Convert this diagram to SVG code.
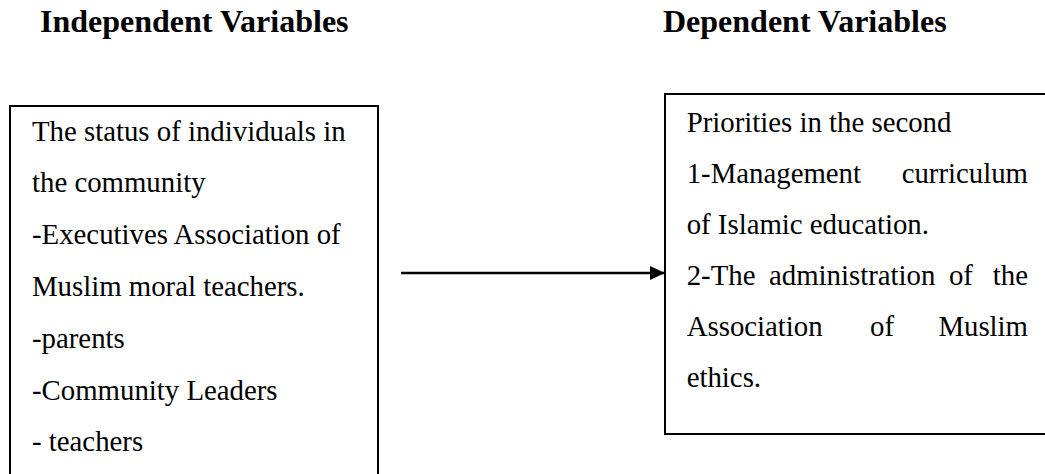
<svg xmlns="http://www.w3.org/2000/svg" width="1045" height="474" viewBox="0 0 1045 474">
<defs>
<style>
.hdr{font-family:"Liberation Serif","Times New Roman",serif;font-weight:bold;font-size:32px;fill:#000}
.t{font-family:"Liberation Serif","Times New Roman",serif;font-size:28.8px;fill:#000}
.box{fill:#fff;stroke:#000;stroke-width:2}
</style>
<marker id="ah" markerWidth="16" markerHeight="14" refX="15" refY="7" orient="auto" markerUnits="userSpaceOnUse">
<path d="M0,0 L15,7 L0,14 Z" fill="#000"/>
</marker>
</defs>
<rect width="1045" height="474" fill="#fff"/>
<text class="hdr" x="40" y="32">Independent Variables</text>
<text class="hdr" x="663" y="32">Dependent Variables</text>
<g id="independent">
<rect class="box" x="10" y="106" width="368" height="380"/>
<text class="t" x="32" y="140.5">The status of individuals in</text>
<text class="t" x="32" y="192.3">the community</text>
<text class="t" x="32" y="244.1">-Executives Association of</text>
<text class="t" x="32" y="295.9">Muslim moral teachers.</text>
<text class="t" x="32" y="347.7">-parents</text>
<text class="t" x="32" y="399.5">-Community Leaders</text>
<text class="t" x="32" y="451.3">- teachers</text>
</g>
<g id="dependent">
<rect class="box" x="665" y="94" width="400" height="340"/>
<text class="t" x="686.7" y="132">Priorities in the second</text>
<text class="t" y="183"><tspan x="686.7">1-Management</tspan><tspan x="1028" text-anchor="end">curriculum</tspan></text>
<text class="t" x="686.7" y="234">of Islamic education.</text>
<text class="t" y="285"><tspan x="686.7">2-The</tspan><tspan x="769">administration</tspan><tspan x="948.9">of</tspan><tspan x="1028" text-anchor="end">the</tspan></text>
<text class="t" y="336"><tspan x="686.7">Association</tspan><tspan x="870">of</tspan><tspan x="1028" text-anchor="end">Muslim</tspan></text>
<text class="t" x="686.7" y="387">ethics.</text>
</g>
<g id="connectors">
<line x1="401" y1="273" x2="665" y2="273" stroke="#000" stroke-width="2.6" marker-end="url(#ah)"/>
</g>
</svg>
